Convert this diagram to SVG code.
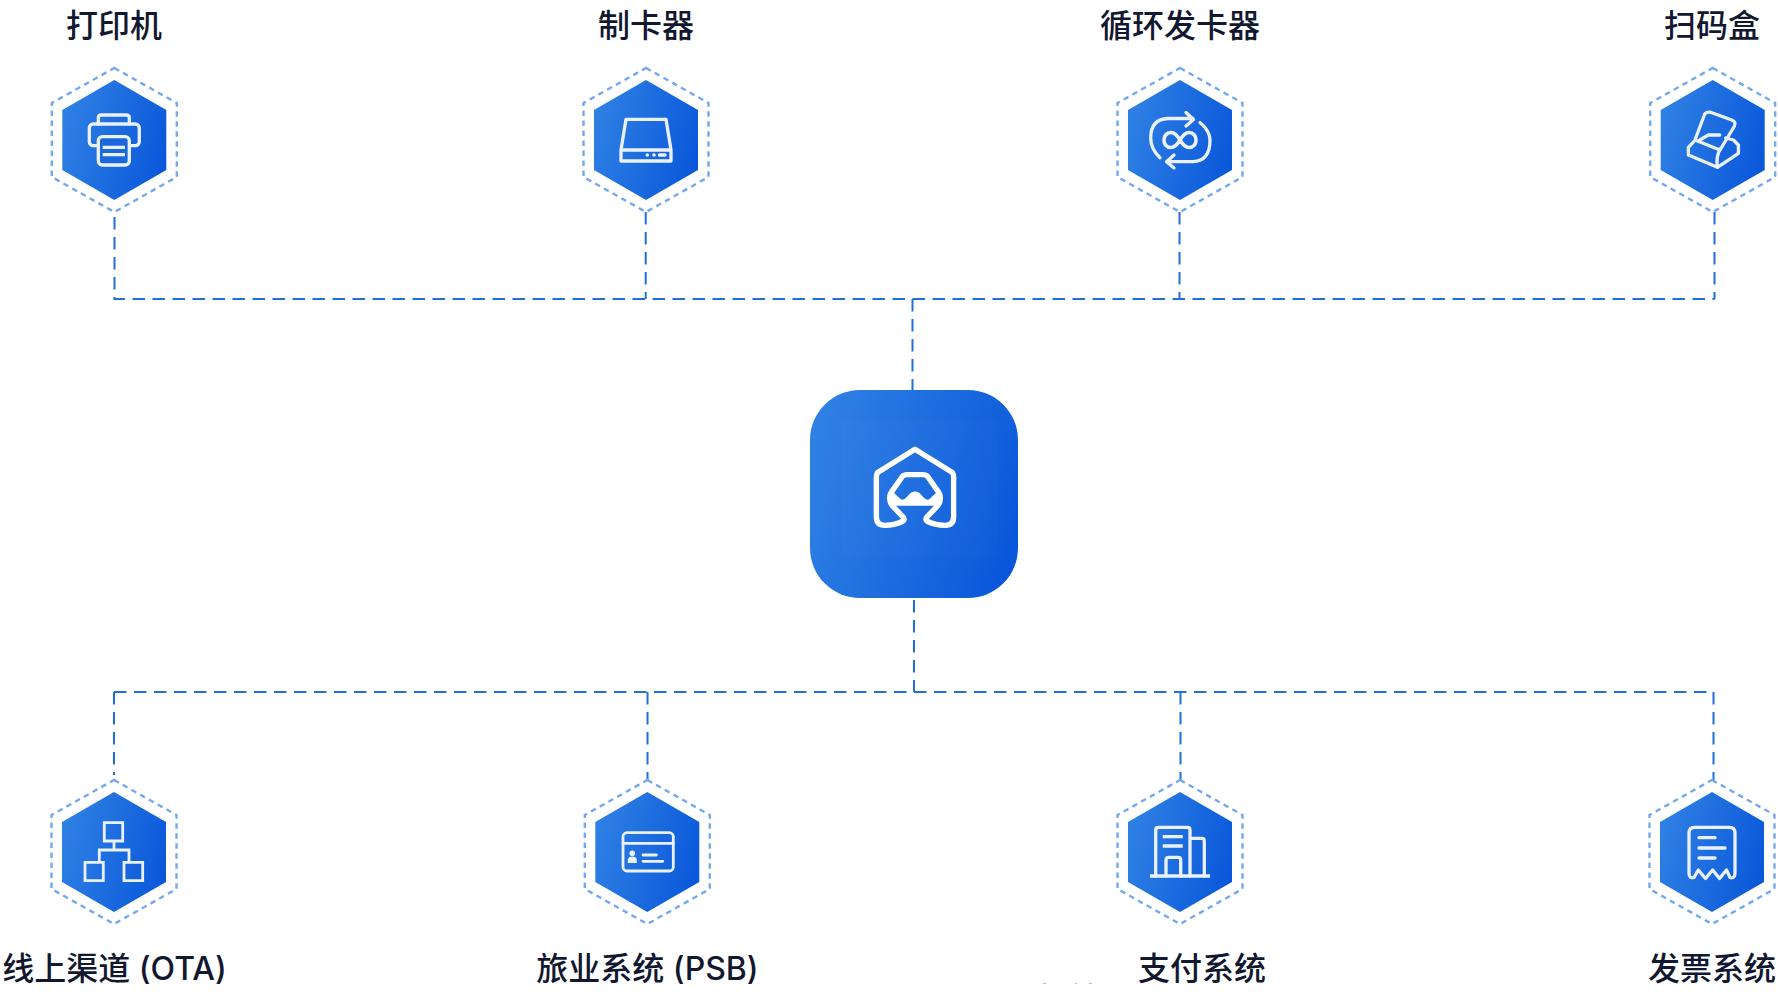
<svg xmlns="http://www.w3.org/2000/svg" width="1778" height="992" viewBox="0 0 1778 992">
<style>
text{font-family:"Inter","Noto Sans CJK SC","Liberation Sans",sans-serif;font-size:32px;font-weight:500;fill:#11182f;text-anchor:middle}
.conn{fill:none;stroke:#1f6fdc;stroke-width:2;stroke-dasharray:12.5 7.5}
.outer{fill:none;stroke:#75a8ec;stroke-width:2.4;stroke-dasharray:5.500 4.500}
.ic{fill:none;stroke:#eaf1fc;stroke-width:3.300;stroke-linecap:round;stroke-linejoin:round}
.sq{stroke-linecap:butt;stroke-linejoin:miter}
</style>
<defs>
<linearGradient id="g" x1="0" y1="0.35" x2="1" y2="0.65"><stop offset="0" stop-color="#2f80e4"/><stop offset="1" stop-color="#0a58da"/></linearGradient>
<g id="hex">
<polygon points="0,-72 62.5,-37 62.5,37 0,72 -62.5,37 -62.5,-37" class="outer"/>
<polygon points="0,-60 52,-30 52,30 0,60 -52,30 -52,-30" fill="url(#g)"/>
</g>
</defs>
<g id="connectors">
<path class="conn" d="M114.5 217V299H1714.5"/>
<path class="conn" d="M645.7 212V299M1179.5 212V299M1714.5 212V299M912.5 299V390"/>
<path class="conn" d="M914 600V692"/>
<path class="conn" d="M114 692H1713.5"/>
<path class="conn" d="M114 692V775M647.5 692V781M1180.5 692V781M1713.5 692V781"/>
</g>
<g id="node-printer" transform="translate(114.3,140)"><use href="#hex"/>
<path class="ic" d="M-16 -16V-22Q-16 -25 -13 -25H12Q15 -25 15 -22V-16"/>
<rect class="ic" x="-25" y="-16" width="50" height="21.7" rx="4"/>
<rect class="ic" x="-16" y="-3.3" width="31" height="28.3" rx="4" style="fill:#1a68dd"/>
<path class="ic sq" d="M-11.6 7.3H10.7M-11.6 14.7H10.7"/>
</g>
<text x="114" y="36.500">打印机</text>
<g id="node-card" transform="translate(646,140)"><use href="#hex"/>
<path class="ic" d="M-20 -20.7H20L25 10V21H-25V10ZM-25 10H25"/>
<path class="ic" style="stroke-width:3.600" d="M1.3 15h.01M8 15h.01M13.5 15H19"/>
</g>
<text x="646" y="36.500">制卡器</text>
<g id="node-loop" transform="translate(1180,140)"><use href="#hex"/>
<path class="ic" d="M-20 17.7Q-29.3 9 -29.3 -2Q-29.3 -21 -12 -21.5H13M6 -27.5L13.5 -20.5L6 -14"/>
<path class="ic" d="M20 -17.5Q30 -9 30 0Q30 21 13 21.7H-13M-6 15L-13.5 21.7L-6 28"/>
<path class="ic" style="stroke-width:3.600" d="M0 0C-3 -5 -6 -7.500 -9 -7.500C-13.500 -7.500 -16 -4 -16 0C-16 4 -13.500 7.500 -9 7.500C-6 7.500 -3 5 0 0C3 -5 6 -7.500 9 -7.500C13.500 -7.500 16 -4 16 0C16 4 13.500 7.500 9 7.500C6 7.500 3 5 0 0Z"/>
</g>
<text x="1180" y="36.500">循环发卡器</text>
<g id="node-scanner" transform="translate(1712.7,140)"><use href="#hex"/>
<path class="ic" d="M-8 -26Q-5 -29 0 -27L19 -20Q24 -18 21.500 -13.500L7.300 10L-17.700 0Z"/>
<path class="ic" d="M-19 1.700L-24.300 7.300V15L4.700 27.300L25.700 13.300V5L20.700 0L13 -2"/>
<path class="ic" d="M4.700 27.300Q3 16 8 8.300M-13 0L-4.300 -5H7"/>
</g>
<text x="1712" y="36.500">扫码盒</text>
<g id="node-center">
<rect x="810" y="390" width="208" height="208" rx="50" fill="url(#g)"/>
<rect x="842" y="421" width="155" height="136" fill="#fff" opacity="0.015"/>
<g transform="translate(865,440) scale(0.3333) translate(150 142) scale(.95) translate(-150 -142)">
<path fill="none" stroke="#fff" stroke-width="17" stroke-linejoin="round" d="M150 22L268 95Q272 100 272 112L272 235Q272 262 245 262Q215 262 190 250Q180 245 188 235L222 200Q230 190 230 175Q230 165 225 158L190 108Q185 102 175 102L125 102Q115 102 110 108L75 158Q70 165 70 175Q70 190 78 200L112 235Q120 245 110 250Q85 262 55 262Q28 262 28 235L28 112Q28 100 32 95Z"/>
<path fill="#fff" d="M82 158L105 180Q115 184 125 172Q137 155 150 155Q163 155 175 172Q185 184 195 180L218 158L230 175L218 200H82L70 175Z"/>
</g>
</g>
<g id="node-ota" transform="translate(114,852)"><use href="#hex"/>
<path class="ic sq" style="stroke-width:2.800" d="M-9.7 -29.3H8.7V-11H-9.7ZM0 -11V-2M-14.7 10.3V-2H15V10.3M-29 10.3H-10.7V28.7H-29ZM10 10.3H28.7V28.7H10Z"/>
</g>
<text x="114.500" y="979.500">线上渠道 (OTA)</text>
<g id="node-psb" transform="translate(647.3,852)"><use href="#hex"/>
<rect class="ic" style="stroke-width:2.800" x="-24.300" y="-19.300" width="50.300" height="38.300" rx="4"/>
<path class="ic" style="stroke-width:2.800" d="M-24.3 -8.700H26M-4.300 3H9M-4.300 9.300H15.500"/>
<circle cx="-15" cy="1.300" r="2.800" fill="#eaf1fc"/>
<path fill="#eaf1fc" d="M-19.500 11V7.500Q-19 4.500 -15 4.500Q-11 4.500 -10.500 7.500V11Z"/>
</g>
<text x="647.500" y="979.500">旅业系统 (PSB)</text>
<g id="node-pay" transform="translate(1180,852)"><use href="#hex"/>
<path class="ic" d="M-24.300 24V-22Q-24.300 -24.700 -21.500 -24.700H7.500Q10 -24.700 10 -22V24M10 -13.700H22Q24.300 -13.700 24.300 -11V24"/>
<path class="ic sq" d="M-30 24H30M-17.300 -15.300H2.700M-17.300 -6H2.700"/>
<path class="ic" d="M-14 24V8Q-14 5.300 -11 5.300H-2Q.7 5.300 .7 8V24"/>
</g>
<text x="1202" y="979.500">支付系统</text>
<g id="node-invoice" transform="translate(1712,852)"><use href="#hex"/>
<path class="ic" d="M-23 -19Q-23 -24.700 -17.500 -24.700H17.500Q23 -24.700 23 -19V21Q23 27 18 25.500L14.500 18L7.500 26.500L.7 18L-6.500 26.500L-13.700 18L-18 25.500Q-23 27 -23 21Z"/>
<path class="ic" d="M-13 -14.300H3M-13 -4H13M-13 6H3"/>
</g>
<text x="1712" y="979.500">发票系统</text>
<g fill="#bdbdbd"><rect x="1043" y="983" width="3" height="1"/><rect x="1075" y="983" width="2" height="1"/><rect x="1089" y="983" width="3" height="1"/></g>
</svg>
